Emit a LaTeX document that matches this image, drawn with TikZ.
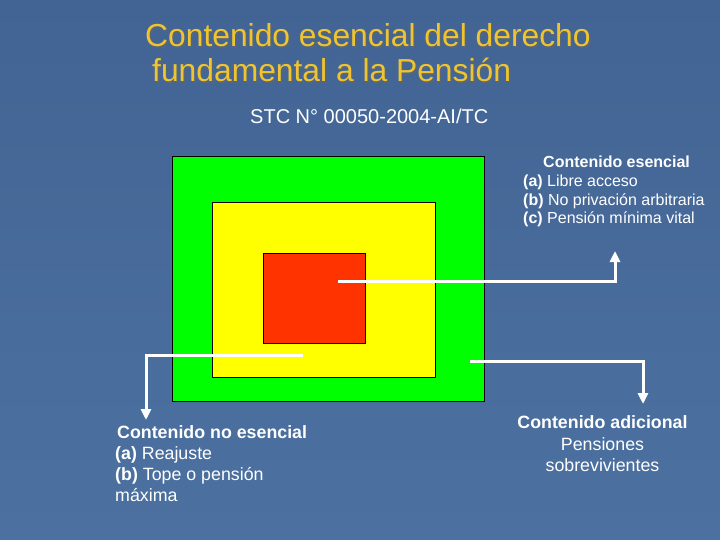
\documentclass[tikz,border=0pt]{standalone}
\usepackage{fontspec}
\setmainfont{Liberation Sans}
\usetikzlibrary{arrows.meta}
\definecolor{bgblue}{RGB}{76,113,160}
\definecolor{bgtop}{RGB}{66,100,148}
\definecolor{titlegold}{RGB}{240,196,46}
\definecolor{sqgreen}{RGB}{0,255,0}
\definecolor{sqyellow}{RGB}{255,255,0}
\definecolor{sqred}{RGB}{255,51,0}
\tikzset{
  sq/.style={draw=black, line width=1pt},
  txt/.style={text=white, inner sep=0pt, anchor=base west},
  ttl/.style={text=titlegold, inner sep=0pt, anchor=base west, font=\fontsize{31.8}{35}\selectfont},
  shd/.style={text=black!60, opacity=0.6, inner sep=0pt, anchor=base west, font=\fontsize{31.8}{35}\selectfont},
  conn/.style={draw=white, line width=3pt, -{Triangle[width=10pt,length=11pt]}},
  fA/.style={font=\fontsize{16}{19}\selectfont},
  fB/.style={font=\fontsize{17.8}{21}\selectfont}
}
\begin{document}
\begin{tikzpicture}[x=1pt,y=-1pt]
\useasboundingbox (0,0) rectangle (720,540);
\shade[top color=bgtop, bottom color=bgblue] (0,0) rectangle (720,540);
% title
\node[shd] at (146.5,48.5) {Contenido esencial del derecho};
\node[ttl] (t1) at (145,47) {Contenido esencial del derecho};
\node[shd] at (153.5,83.5) {fundamental a la Pensión};
\node[ttl] (t2) at (152,82) {fundamental a la Pensión};
\node[txt, font=\fontsize{20}{24}\selectfont] (stc) at (250,124) {STC N° 00050-2004-AI/TC};
% squares
\node[sq, fill=sqgreen, minimum width=312pt, minimum height=245pt, inner sep=0pt, anchor=north west] (green) at (172,156) {};
\node[sq, fill=sqyellow, minimum width=223pt, minimum height=175pt, inner sep=0pt, anchor=north west] (yellow) at (212,202) {};
\node[sq, fill=sqred, minimum width=102pt, minimum height=90pt, inner sep=0pt, anchor=north west] (red) at (263,253) {};
% upper right text
\node[txt, fA] (ur0) at (543,168) {\textbf{Contenido esencial}};
\node[txt, fA] (ur1) at (523,187) {\textbf{(a)} Libre acceso};
\node[txt, fA] (ur2) at (523,205.5) {\textbf{(b)} No privación arbitraria};
\node[txt, fA] (ur3) at (523,224) {\textbf{(c)} Pensión mínima vital};
% lower left text
\node[txt, fB] (ll0) at (117,438) {\textbf{Contenido no esencial}};
\node[txt, fB] (ll1) at (115,459) {\textbf{(a)} Reajuste};
\node[txt, fB] (ll2) at (115,480) {\textbf{(b)} Tope o pensión};
\node[txt, fB] (ll3) at (115,501) {máxima};
% lower right text
\node[txt, fB, anchor=base] (lr0) at (602.5,428) {\textbf{Contenido adicional}};
\node[txt, fB, anchor=base] (lr1) at (602.5,450) {Pensiones};
\node[txt, fB, anchor=base] (lr2) at (602.5,471.5) {sobrevivientes};
% connector points
\coordinate (s1) at (338,281);
\coordinate (e1) at (615,251);
\coordinate (s2) at (303,355);
\coordinate (e2) at (146,420);
\coordinate (s3) at (470,361);
\coordinate (e3) at (643,404);
\draw[conn] (s1) -| (e1);
\draw[conn] (s2) -| (e2);
\draw[conn] (s3) -| (e3);
\end{tikzpicture}
\end{document}
